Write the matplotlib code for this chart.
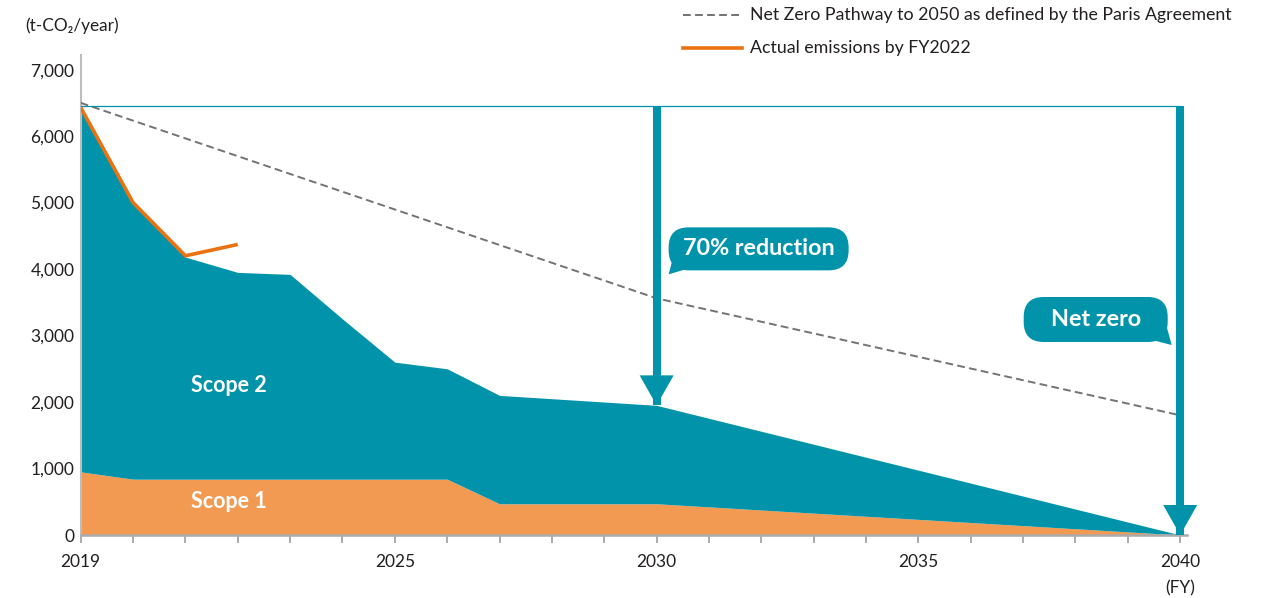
import matplotlib
matplotlib.use("Agg")
import matplotlib.pyplot as plt
from matplotlib.patches import Polygon, FancyBboxPatch
from matplotlib.transforms import Affine2D, ScaledTranslation
from matplotlib.lines import Line2D

# ---- data -------------------------------------------------------------
years = [2019, 2020, 2021, 2022, 2023, 2024, 2025, 2026, 2027, 2030, 2040]
scope1 = [950, 840, 840, 840, 840, 840, 840, 840, 470, 470, 0]
scope2 = [5480, 4160, 3340, 3110, 3080, 2410, 1760, 1660, 1630, 1480, 0]

actual_years = [2019, 2020, 2021, 2022]
actual_emissions = [6430, 5000, 4200, 4370]

pathway_years = [2019, 2030, 2040]
pathway_values = [6500, 3560, 1800]

base_level = 6460
milestone_years = [2030, 2040]
milestone_labels = ["70% reduction", "Net zero"]

y_ticks = [0, 1000, 2000, 3000, 4000, 5000, 6000, 7000]
x_label_years = [2019, 2025, 2030, 2035, 2040]

legend_labels = ["Net Zero Pathway to 2050 as defined by the Paris Agreement",
                 "Actual emissions by FY2022"]
unit_label = "(t-CO\u2082/year)"

# ---- style ------------------------------------------------------------
TEAL = "#0093A9"
ORANGE_FILL = "#F29A51"
ORANGE_LINE = "#EC7211"
DASH_GREY = "#737373"
AXIS_GREY = "#ABABAB"
TEXT = "#231F20"
DASHES = (4.0, 2.2)

plt.rcParams["font.family"] = ["Lato", "DejaVu Sans"]

W, H = 1268, 598
fig = plt.figure(figsize=(W / 100, H / 100), dpi=100)
ax = fig.add_axes([80.7 / W, 1 - 535 / H, (1187 - 80.7) / W, (535 - 55) / H])
ax.set_xlim(2019, 2040.13)
ax.set_ylim(0, 7220)

total = [a + b for a, b in zip(scope1, scope2)]

# stacked emissions areas
ax.fill_between(years, 0, scope1, color=ORANGE_FILL, lw=0, zorder=2)
ax.fill_between(years, scope1, total, color=TEAL, lw=0, zorder=2)

# Paris-aligned pathway
ax.plot(pathway_years, pathway_values, color=DASH_GREY, lw=1.4,
        dashes=DASHES, zorder=3)

# actual emissions
ax.plot(actual_years, actual_emissions, color=ORANGE_LINE, lw=2.6,
        solid_capstyle="butt", solid_joinstyle="miter", zorder=4)

# base-year reference line
ax.plot([2019, milestone_years[-1]], [base_level, base_level],
        color=TEAL, lw=0.9, zorder=3)

# area labels
ax.text(2021.83, 2256, "Scope 2", color="white", fontsize=15.5,
        fontweight="bold", ha="center", va="center", zorder=5)
ax.text(2021.83, 511, "Scope 1", color="white", fontsize=15.5,
        fontweight="bold", ha="center", va="center", zorder=5)


def pixel_frame(x, y):
    """Pixel-unit transform anchored at a data point."""
    return Affine2D() + ScaledTranslation(x, y, ax.transData)


# milestone arrows
for yr in milestone_years:
    val = total[years.index(yr)]
    ax.plot([yr, yr], [base_level, val], color=TEAL, lw=5.8,
            solid_capstyle="butt", zorder=6, clip_on=False)
    ax.add_patch(Polygon([(0, 0), (-17, 30), (17, 30)], closed=True,
                         transform=pixel_frame(yr, val), fc=TEAL, ec="none",
                         zorder=7, clip_on=False))

# speech-bubble callouts: box (x, y, w, h), tail triangle, text offset (px)
callout_geom = [
    dict(box=(12, 135, 180, 43), tail=[(12, 131), (17, 150), (32, 137)],
         text=(102, 157)),
    dict(box=(-156.5, 193, 144, 45), tail=[(-8.5, 190), (-32, 196), (-14, 210)],
         text=(-84.5, 215)),
]
for yr, lab, g in zip(milestone_years, milestone_labels, callout_geom):
    val = total[years.index(yr)]
    tr = pixel_frame(yr, val)
    bx, by, bw, bh = g["box"]
    ax.add_patch(FancyBboxPatch((bx, by), bw, bh,
                                boxstyle="round,pad=0,rounding_size=20",
                                transform=tr, fc=TEAL, ec="none", zorder=8,
                                clip_on=False))
    ax.add_patch(Polygon(g["tail"], closed=True, transform=tr, fc=TEAL,
                         ec="none", zorder=8, clip_on=False))
    ax.annotate(lab, xy=(yr, val), xytext=g["text"], textcoords="offset pixels",
                ha="center", va="center", color="white", fontsize=16.8,
                fontweight="bold", zorder=9)

# axes styling
for side in ("top", "right"):
    ax.spines[side].set_visible(False)
ax.spines["left"].set_color("#BDBDBD")
ax.spines["left"].set_linewidth(1.5)
ax.spines["bottom"].set_color(AXIS_GREY)
ax.spines["bottom"].set_linewidth(1.8)
ax.spines["bottom"].set_zorder(5)

ax.set_yticks(y_ticks)
ax.set_yticklabels([f"{v:,}" for v in y_ticks])
ax.tick_params(axis="y", length=0, pad=4.5, labelsize=12.5, labelcolor=TEXT)

all_years = list(range(2019, 2041))
ax.set_xticks(all_years)
ax.set_xticklabels([str(y) if y in x_label_years else "" for y in all_years])
ax.tick_params(axis="x", length=5.8, width=1.4, color=AXIS_GREY, pad=8,
               labelsize=12.5, labelcolor=TEXT)

ax.annotate("(FY)", xy=(2040, 0), xytext=(0, -53), textcoords="offset pixels",
            ha="center", va="center", fontsize=12.5, color=TEXT,
            annotation_clip=False)

fig.text(25 / W, 1 - 26 / H, unit_label, ha="left", va="center",
         fontsize=12.4, color=TEXT)

# legend
fig.add_artist(Line2D([683 / W, 742 / W], [1 - 15 / H, 1 - 15 / H],
                      transform=fig.transFigure, color=DASH_GREY, lw=1.4,
                      dashes=DASHES))
fig.add_artist(Line2D([683 / W, 742 / W], [1 - 48 / H, 1 - 48 / H],
                      transform=fig.transFigure, color=ORANGE_LINE, lw=2.6))
fig.text(750 / W, 1 - 15 / H, legend_labels[0], ha="left", va="center",
         fontsize=12.8, color=TEXT)
fig.text(750 / W, 1 - 48 / H, legend_labels[1], ha="left", va="center",
         fontsize=12.8, color=TEXT)

fig.savefig("out.png", dpi=100)
